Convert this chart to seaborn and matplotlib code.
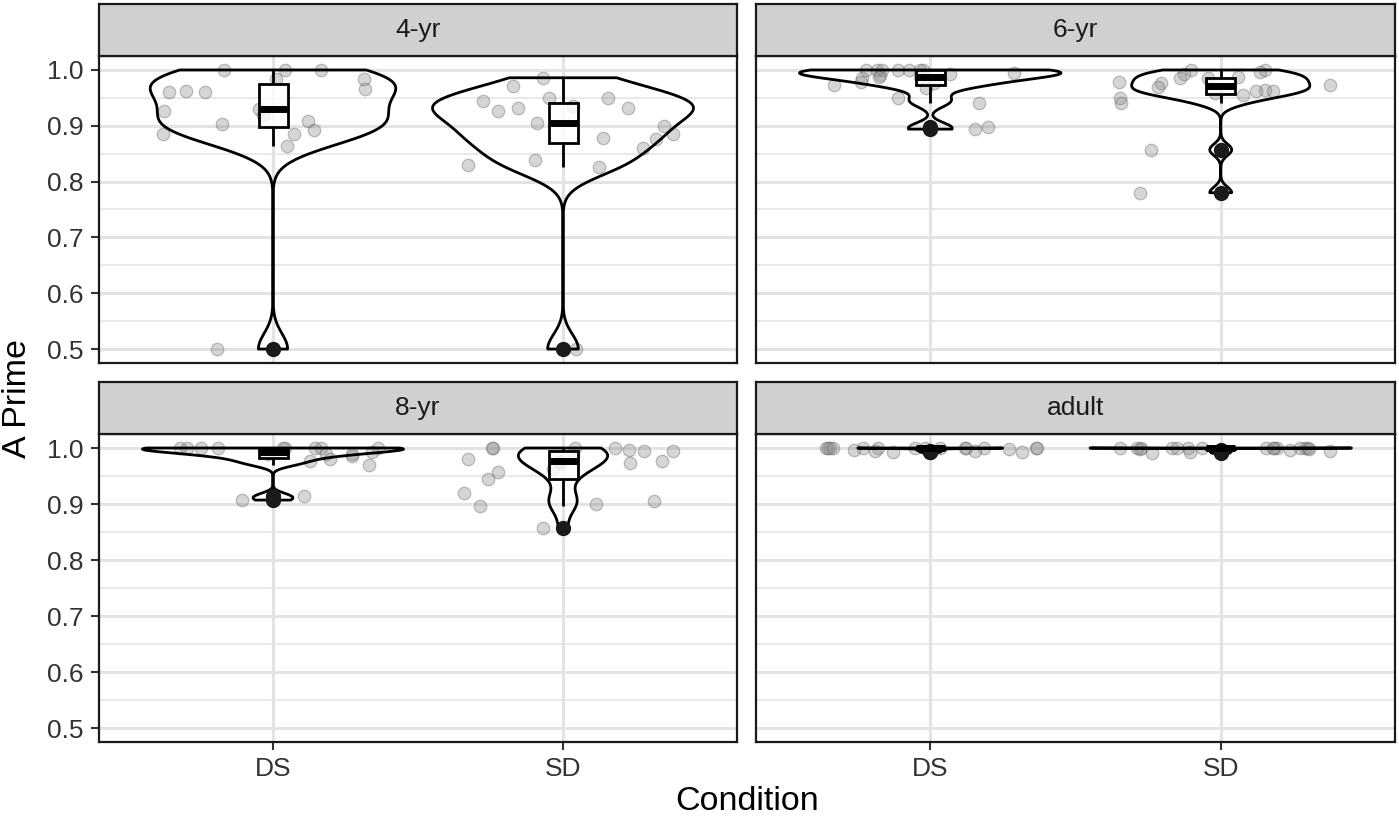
import numpy as np
import pandas as pd
import matplotlib
matplotlib.use("Agg")
import matplotlib.pyplot as plt
import seaborn as sns

# ---------------- data ----------------
conditions = ["DS", "SD"]
ages = ["4-yr", "6-yr", "8-yr", "adult"]

ds_4yr = [1.0, 1.0, 1.0, 0.983, 0.983, 0.965, 0.963, 0.960, 0.960, 0.930, 0.926,
          0.920, 0.908, 0.904, 0.893, 0.885, 0.885, 0.864, 0.500]
sd_4yr = [0.986, 0.972, 0.950, 0.949, 0.945, 0.936, 0.932, 0.931, 0.926, 0.905,
          0.900, 0.885, 0.878, 0.876, 0.861, 0.839, 0.829, 0.826, 0.500]
ds_6yr = [1.0, 1.0, 1.0, 1.0, 1.0, 1.0, 1.0, 0.994, 0.993, 0.991, 0.988, 0.987,
          0.986, 0.979, 0.976, 0.973, 0.968, 0.949, 0.940, 0.897, 0.894]
sd_6yr = [1.0, 1.0, 0.997, 0.993, 0.988, 0.985, 0.985, 0.979, 0.976, 0.973, 0.970,
          0.964, 0.963, 0.963, 0.958, 0.955, 0.949, 0.940, 0.857, 0.780]
ds_8yr = [1.0, 1.0, 1.0, 1.0, 1.0, 1.0, 1.0, 1.0, 1.0, 0.992, 0.990, 0.990, 0.990,
          0.986, 0.980, 0.976, 0.970, 0.915, 0.907]
sd_8yr = [1.0, 1.0, 1.0, 1.0, 0.996, 0.995, 0.995, 0.985, 0.980, 0.976, 0.976,
          0.974, 0.974, 0.962, 0.958, 0.945, 0.920, 0.906, 0.900, 0.896, 0.857]
ds_adult = [1.0, 1.0, 1.0, 1.0, 1.0, 1.0, 1.0, 1.0, 1.0, 1.0, 1.0, 1.0, 1.0, 1.0,
            0.998, 0.997, 0.995, 0.994, 0.993, 0.992]
sd_adult = [1.0, 1.0, 1.0, 1.0, 1.0, 1.0, 1.0, 1.0, 1.0, 1.0, 1.0, 1.0, 1.0, 1.0,
            0.999, 0.998, 0.996, 0.994, 0.993, 0.991]

y_ticks = [0.5, 0.6, 0.7, 0.8, 0.9, 1.0]
y_tick_labels = ["0.5", "0.6", "0.7", "0.8", "0.9", "1.0"]

series = {
    ("4-yr", "DS"): ds_4yr, ("4-yr", "SD"): sd_4yr,
    ("6-yr", "DS"): ds_6yr, ("6-yr", "SD"): sd_6yr,
    ("8-yr", "DS"): ds_8yr, ("8-yr", "SD"): sd_8yr,
    ("adult", "DS"): ds_adult, ("adult", "SD"): sd_adult,
}
rows = []
for (age, cond), vals in series.items():
    for v in vals:
        rows.append({"Age": age, "Condition": cond, "APrime": v})
df = pd.DataFrame(rows)

# ---------------- helpers ----------------
def bw_nrd0(x):
    x = np.asarray(x, float)
    sd = x.std(ddof=1)
    iqr = np.subtract(*np.percentile(x, [75, 25]))
    lo = min(sd, iqr / 1.34) if iqr > 0 else sd
    if lo <= 0:
        lo = sd if sd > 0 else 1.0
    return 0.9 * lo * len(x) ** (-0.2)

def kde_peak(x, bw):
    x = np.asarray(x, float)
    grid = np.linspace(x.min(), x.max(), 512)
    d = np.exp(-0.5 * ((grid[:, None] - x[None, :]) / bw) ** 2).sum(1)
    return (d / (len(x) * bw * np.sqrt(2 * np.pi))).max()

# ---------------- style ----------------
sns.set_theme(style="white")
plt.rcParams["font.family"] = ["Liberation Sans", "DejaVu Sans"]

W, H = 1399, 823
fig = plt.figure(figsize=(W / 100, H / 100), dpi=100)

panel_px = {
    "4-yr": (99, 56, 737, 363),
    "6-yr": (756, 56, 1395, 363),
    "8-yr": (99, 434, 737, 742),
    "adult": (756, 434, 1395, 742),
}
strip_h = 52
np.random.seed(3)

grid_col = "#e3e3e3"
text_col = "#333333"
lw = 2.0

for age in ages:
    x0, y0, x1, y1 = panel_px[age]
    ax = fig.add_axes([x0 / W, 1 - y1 / H, (x1 - x0) / W, (y1 - y0) / H])
    sub = df[df["Age"] == age]

    # jittered raw points
    sns.stripplot(data=sub, x="Condition", y="APrime", order=conditions,
                  jitter=0.4, size=9, color="#8a8a8a", alpha=0.35,
                  linewidth=0.9, edgecolor="#555555", ax=ax, zorder=2)

    # violins: per-group nrd0 bandwidth, widths scaled by peak density (area scaling)
    bws = {c: bw_nrd0(sub.loc[sub.Condition == c, "APrime"]) for c in conditions}
    peaks = {c: kde_peak(sub.loc[sub.Condition == c, "APrime"], bws[c]) for c in conditions}
    pmax = max(peaks.values())
    for c in conditions:
        g = sub[sub.Condition == c]
        sd = g["APrime"].std(ddof=1)
        sns.violinplot(data=g, x="Condition", y="APrime", order=conditions,
                       cut=0, inner=None, bw_method=bws[c] / sd,
                       density_norm="width", width=0.9 * peaks[c] / pmax,
                       gridsize=512, fill=False, color="black", linewidth=lw,
                       ax=ax, zorder=3)

    # boxplots
    sns.boxplot(data=sub, x="Condition", y="APrime", order=conditions,
                width=0.1, color="white", saturation=1, linecolor="black",
                linewidth=lw, showcaps=False, fliersize=10,
                boxprops=dict(facecolor=(1, 1, 1, 0.8)),
                flierprops=dict(marker="o", markerfacecolor="#1a1a1a",
                                markeredgecolor="#1a1a1a"),
                medianprops=dict(linewidth=5, color="black"),
                ax=ax, zorder=4)

    ax.set_xlim(-0.6, 1.6)
    ax.set_ylim(0.475, 1.025)
    ax.set_yticks(y_ticks)
    ax.set_yticks([0.55, 0.65, 0.75, 0.85, 0.95], minor=True)
    ax.set_xticks([0, 1])
    ax.set_axisbelow(True)
    ax.grid(True, which="major", axis="both", color=grid_col, linewidth=2.2, zorder=0)
    ax.grid(True, which="minor", axis="y", color=grid_col, linewidth=1.1, zorder=0)
    ax.set_xlabel("")
    ax.set_ylabel("")
    for s in ax.spines.values():
        s.set_color("#1a1a1a")
        s.set_linewidth(1.6)
        s.set_visible(True)

    left = age in ("4-yr", "8-yr")
    bottom = age in ("8-yr", "adult")
    ax.tick_params(axis="y", which="major", left=left, labelleft=left, length=6,
                   width=1.5, color=text_col, labelsize=19, labelcolor=text_col, pad=5)
    ax.tick_params(axis="y", which="minor", left=False)
    ax.tick_params(axis="x", bottom=bottom, labelbottom=bottom, length=6,
                   width=1.5, color=text_col, labelsize=19, labelcolor=text_col, pad=5)
    if left:
        ax.set_yticklabels(y_tick_labels)
    if bottom:
        ax.set_xticklabels(conditions)

    # strip
    sax = fig.add_axes([x0 / W, 1 - y0 / H, (x1 - x0) / W, strip_h / H])
    sax.set_facecolor("#d0d0d0")
    sax.set_xticks([])
    sax.set_yticks([])
    for s in sax.spines.values():
        s.set_color("#1a1a1a")
        s.set_linewidth(1.6)
        s.set_visible(True)
    sax.text(0.5, 0.5, age, ha="center", va="center", fontsize=19,
             color="#1a1a1a", transform=sax.transAxes)

fig.text(747 / W, 1 - 802 / H, "Condition", ha="center", va="center",
         fontsize=24.5, color="black")
fig.text(18 / W, 1 - 398 / H, "A Prime", ha="center", va="center",
         rotation=90, fontsize=24.5, color="black")

fig.savefig("out.png", dpi=100, facecolor="white")
